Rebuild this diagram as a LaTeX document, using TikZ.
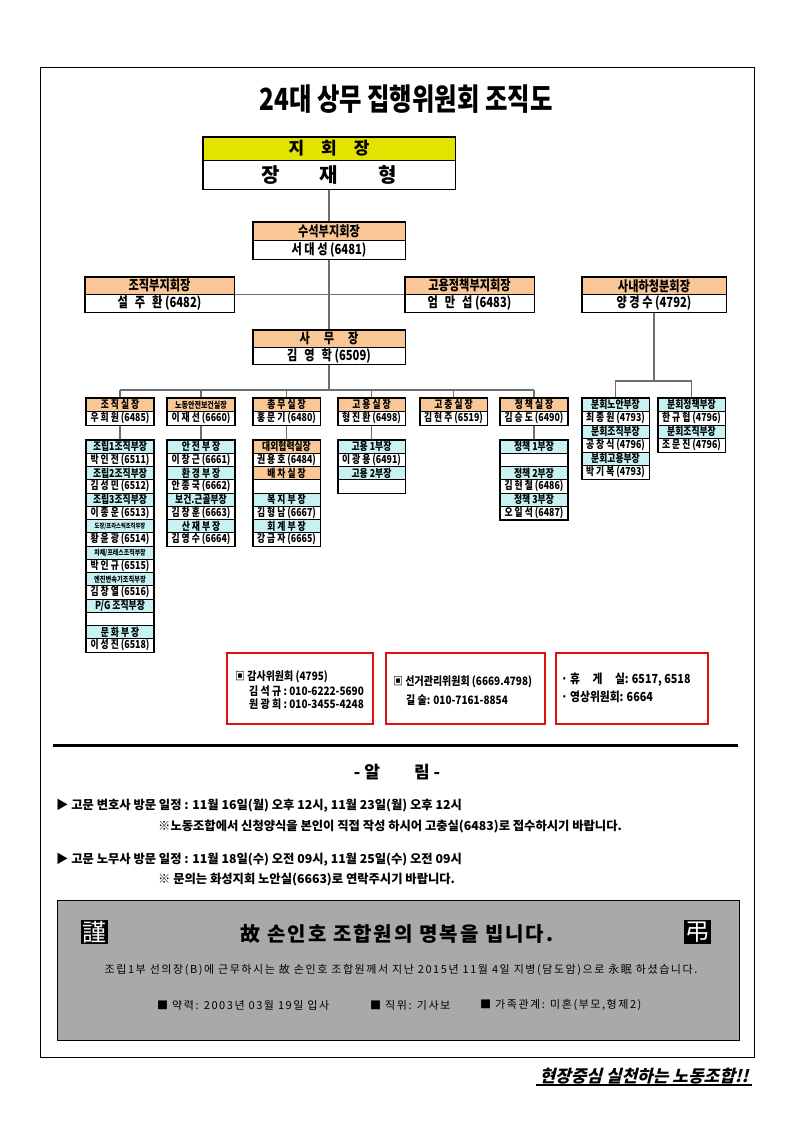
\documentclass[tikz,border=0pt]{standalone}
\usepackage{fontspec}
\setmainfont{Noto Sans CJK KR}
\newfontfamily\kr{Noto Sans CJK KR}
\newfontfamily\krc[FakeStretch=0.8]{Noto Sans CJK KR}
\newfontfamily\krm[FakeStretch=0.86]{Noto Sans CJK KR}
\newfontfamily\krs[FakeSlant=0.25]{Noto Sans CJK KR}
\newfontfamily\krw[LetterSpace=14]{Noto Sans CJK KR}
\newfontfamily\krt[LetterSpace=10]{Noto Sans CJK KR}
\definecolor{orng}{HTML}{F9C796}
\definecolor{cyn}{HTML}{C8F2F2}
\definecolor{ylw}{HTML}{E3E300}
\definecolor{conncol}{HTML}{6E6E6E}
\definecolor{gboxcol}{HTML}{A9A9A9}
\definecolor{redcol}{HTML}{E01010}
\newcommand\sA{{\fontsize{6.6}{6.6}\selectfont 도장/프라스틱조직부장}}
\newcommand\sB{{\fontsize{7.4}{7.4}\selectfont 차체/프레스조직부장}}
\newcommand\sC{{\fontsize{7.8}{7.8}\selectfont 엔진변속기조직부장}}
\newcommand\sD{P/G 조직부장}
\tikzset{
 cell/.style={draw, line width=0.6pt, inner sep=0pt, minimum width=67pt, minimum height=13.25pt, font=\krc\bfseries\fontsize{11}{11}\selectfont},
 hcell/.style={cell, fill=orng},
 ccell/.style={cell, fill=cyn},
 wcell/.style={cell, fill=white},
 conn/.style={draw=conncol, line width=1.1pt},
 outer/.style={draw, line width=1.6pt},
 big/.style={draw, line width=0.8pt, inner sep=0pt, font=\krc\bfseries\fontsize{14}{14}\selectfont},
 redbox/.style={draw=redcol, line width=1.8pt, inner sep=0pt},
 rtext/.style={inner sep=0pt, font=\krm\bfseries\fontsize{11.6}{11.6}\selectfont},
 rtextb/.style={inner sep=0pt, font=\krm\bfseries\fontsize{12.5}{12.5}\selectfont},
 ntext/.style={inner sep=0pt, font=\kr\bfseries\fontsize{12.3}{12.3}\selectfont},
 mtext/.style={inner sep=0pt, font=\krw\fontsize{11}{11}\selectfont},
}
\begin{document}
\begin{tikzpicture}[x=1pt,y=-1pt]
\useasboundingbox (0,0) rectangle (794,1123);
\fill[white] (0,0) rectangle (794,1123);
\draw[line width=0.8pt] (40,67) rectangle (754,1057);

\node[font=\krc\bfseries\fontsize{30.5}{30.5}\selectfont] (title) at (406,99) {24대 상무 집행위원회 조직도};

% connectors first
\coordinate (bus) at (329,390);
\coordinate (rbus) at (654,381);
\draw[conn] (329,189) -- (329,390);
\draw[conn] (234,294.5) -- (405,294.5);
\draw[conn] (120,390) -- (534,390);
\foreach \x in {120,201,286.5,371.5,453.5,534} \draw[conn] (\x,390) -- (\x,398);
\foreach \x in {120,201,286.5,371.5,534} \draw[conn] (\x,425) -- (\x,440);
\draw[conn] (654,312) -- (rbus);
\draw[conn] (615.5,398) -- (615.5,381) -- (691.5,381) -- (691.5,398);

% 지회장
\node[big, fill=ylw, minimum width=252, minimum height=23, font=\kr\bfseries\fontsize{17}{17}\selectfont] (jh) at (329,148.5) {지\quad 회\quad 장};
\node[big, fill=white, minimum width=252, minimum height=29, font=\kr\bfseries\fontsize{20}{20}\selectfont] (jhn) at (329,174.5) {장\qquad 재\qquad 형};
\draw[outer] (jh.north west) rectangle (jhn.south east);

% 수석부지회장
\node[big, fill=orng, minimum width=152, minimum height=18.5] (ss) at (329,231.25) {수석부지회장};
\node[big, fill=white, minimum width=152, minimum height=18.5] (ssn) at (329,249.75) {서 대 성 (6481)};
\draw[outer] (ss.north west) rectangle (ssn.south east);

% row 2
\node[big, fill=orng, minimum width=149, minimum height=17.5] (jb) at (159.5,285.75) {조직부지회장};
\node[big, fill=white, minimum width=149, minimum height=17.5] (jbn) at (159.5,303.25) {설\enspace 주\enspace 환 (6482)};
\draw[outer] (jb.north west) rectangle (jbn.south east);
\node[big, fill=orng, minimum width=129, minimum height=17.5] (gb) at (469.5,285.75) {고용정책부지회장};
\node[big, fill=white, minimum width=129, minimum height=17.5] (gbn) at (469.5,303.25) {엄\enspace 만\enspace 섭 (6483)};
\draw[outer] (gb.north west) rectangle (gbn.south east);
\node[big, fill=orng, minimum width=144, minimum height=17.5] (sn) at (654,285.75) {사내하청분회장};
\node[big, fill=white, minimum width=144, minimum height=17.5] (snn) at (654,303.25) {양 경 수 (4792)};
\draw[outer] (sn.north west) rectangle (snn.south east);

% 사무장
\node[big, fill=orng, minimum width=152, minimum height=17] (sm) at (329,338.5) {사\quad 무\quad 장};
\node[big, fill=white, minimum width=152, minimum height=17] (smn) at (329,355.5) {김\enspace 영\enspace 학 (6509)};
\draw[outer] (sm.north west) rectangle (smn.south east);

% department heads
\foreach \nm/\x/\h/\n in {zj/120/{조 직 실 장}/{우 희 원 (6485)},
  ns/201/{{\fontsize{8.8}{8.8}\selectfont 노동안전보건실장}}/{이 재 선 (6660)},
  cm/286.5/{총 무 실 장}/{홍 문 기 (6480)},
  gy/371.5/{고 용 실 장}/{형 진 환 (6498)},
  gc/453.5/{고 충 실 장}/{김 현 주 (6519)},
  jc/534/{정 책 실 장}/{김 승 도 (6490)}} {
  \node[hcell, minimum height=13.5] (\nm) at (\x,404.75) {\h};
  \node[wcell, minimum height=13.5] (\nm n) at (\x,418.25) {\n};
  \draw[outer] (\nm.north west) rectangle (\nm n.south east);
}

% lists
\foreach \f/\t [count=\i] in {ccell/조립1조직부장, wcell/박 인 전 (6511), ccell/조립2조직부장, wcell/김 성 민 (6512),
  ccell/조립3조직부장, wcell/이 종 운 (6513), ccell/\sA, wcell/황 윤 광 (6514), ccell/\sB, wcell/박 인 규 (6515),
  ccell/\sC, wcell/김 창 열 (6516), ccell/\sD, wcell/{}, ccell/문 화 부 장, wcell/이 성 진 (6518)}
  \node[\f] (zl\i) at (120,{440+6.625+13.25*(\i-1)}) {\t};
\draw[outer] (zl1.north west) rectangle (zl16.south east);

\foreach \f/\t [count=\i] in {ccell/안 전 부 장, wcell/이 창 근 (6661), ccell/환 경 부 장, wcell/안 종 국 (6662),
  ccell/보건.근골부장, wcell/김 창 훈 (6663), ccell/산 재 부 장, wcell/김 영 수 (6664)}
  \node[\f] (nl\i) at (201,{440+6.625+13.25*(\i-1)}) {\t};
\draw[outer] (nl1.north west) rectangle (nl8.south east);

\foreach \f/\t [count=\i] in {hcell/대외협력실장, wcell/권 용 호 (6484), hcell/배 차 실 장, wcell/{},
  ccell/복 지 부 장, wcell/김 형 남 (6667), ccell/회 계 부 장, wcell/강 금 자 (6665)}
  \node[\f] (cl\i) at (286.5,{440+6.625+13.25*(\i-1)}) {\t};
\draw[outer] (cl1.north west) rectangle (cl8.south east);

\foreach \f/\t [count=\i] in {ccell/고용 1부장, wcell/이 광 용 (6491), ccell/고용 2부장, wcell/{}}
  \node[\f] (gl\i) at (371.5,{440+6.625+13.25*(\i-1)}) {\t};
\draw[outer] (gl1.north west) rectangle (gl4.south east);

\foreach \f/\t [count=\i] in {ccell/정책 1부장, wcell/{}, ccell/정책 2부장, wcell/김 현 철 (6486), ccell/정책 3부장, wcell/오 일 석 (6487)}
  \node[\f] (pl\i) at (534,{440+6.625+13.25*(\i-1)}) {\t};
\draw[outer] (pl1.north west) rectangle (pl6.south east);

\foreach \f/\t [count=\i] in {ccell/분회노안부장, wcell/최 종 원 (4793), ccell/분회조직부장, wcell/공 창 식 (4796), ccell/분회고용부장, wcell/박 기 복 (4793)}
  \node[\f, minimum height=13.5] (bn\i) at (615.5,{398+6.75+13.5*(\i-1)}) {\t};
\draw[outer] (bn1.north west) rectangle (bn6.south east);

\foreach \f/\t [count=\i] in {ccell/분회정책부장, wcell/한 규 협 (4796), ccell/분회조직부장, wcell/조 문 진 (4796)}
  \node[\f, minimum height=13.5] (bp\i) at (691.5,{398+6.75+13.5*(\i-1)}) {\t};
\draw[outer] (bp1.north west) rectangle (bp4.south east);

% red boxes
\node[redbox, minimum width=146, minimum height=71] (gam) at (300,688.5) {};
\node[redbox, minimum width=159, minimum height=71] (sgw) at (465.5,688.5) {};
\node[redbox, minimum width=152, minimum height=71] (hue) at (632,688.5) {};
\node[rtext, anchor=west] (g1) at (235,677) {▣ 감사위원회 (4795)};
\node[rtext, anchor=west] (g2) at (249,691) {김 석 규 :\ 010-6222-5690};
\node[rtext, anchor=west] (g3) at (249,704.5) {원 광 희 :\ 010-3455-4248};
\node[rtext, anchor=west] (s1) at (393,682) {▣ 선거관리위원회 (6669.4798)};
\node[rtext, anchor=west] (s2) at (406,700) {길 술: 010-7161-8854};
\node[rtextb, anchor=west] (h1) at (561,680) {· 휴\quad 게\quad 실: 6517, 6518};
\node[rtextb, anchor=west] (h2) at (561,697) {· 영상위원회: 6664};

% notice
\draw[line width=3pt] (53,745) -- (738,745);
\node[font=\kr\bfseries\fontsize{17}{17}\selectfont] (alim) at (397,772) {- 알\qquad 림 -};
\node[ntext, anchor=west] (n1) at (56,806) {▶ 고문 변호사 방문 일정 : 11월 16일(월) 오후 12시, 11월 23일(월) 오후 12시};
\node[ntext, anchor=west] (n2) at (158,827) {※노동조합에서 신청양식을 본인이 직접 작성 하시어 고충실(6483)로 접수하시기 바랍니다.};
\node[ntext, anchor=west] (n3) at (56,860) {▶ 고문 노무사 방문 일정 : 11월 18일(수) 오전 09시, 11월 25일(수) 오전 09시};
\node[ntext, anchor=west] (n4) at (158,880) {※ 문의는 화성지회 노안실(6663)로 연락주시기 바랍니다.};

% mourning box
\node[draw, fill=gboxcol, line width=0.8pt, minimum width=682, minimum height=140, inner sep=0pt] (mourn) at (398,970) {};
\node[fill=black, text=white, inner sep=1.5pt, font=\kr\fontsize{24}{24}\selectfont] (gn) at (94,932) {謹};
\node[fill=black, text=white, inner sep=1.5pt, font=\kr\fontsize{24}{24}\selectfont] (jo) at (697,932) {弔};
\node[font=\krt\bfseries\fontsize{20}{20}\selectfont] (mt) at (397,934) {故 손인호 조합원의 명복을 빕니다.};
\node[mtext] (ml) at (401,970) {조립1부 선의장(B)에 근무하시는 故 손인호 조합원께서 지난 2015년 11월 4일 지병(담도암)으로 永眠 하셨습니다.};
\node[mtext, anchor=west] (m1) at (157,1005) {■ 약력: 2003년 03월 19일 입사};
\node[mtext, anchor=west] (m2) at (370,1005) {■ 직위: 기사보};
\node[mtext, anchor=west] (m3) at (480,1005) {■ 가족관계: 미혼(부모,형제2)};

% footer
\node[anchor=east, font=\krs\bfseries\fontsize{17}{17}\selectfont] (ft) at (752,1076) {현장중심 실천하는 노동조합!!};
\draw[line width=1.2pt] ([yshift=-2.5pt]ft.base west) -- ([yshift=-2.5pt]ft.base east);
\end{tikzpicture}
\end{document}
